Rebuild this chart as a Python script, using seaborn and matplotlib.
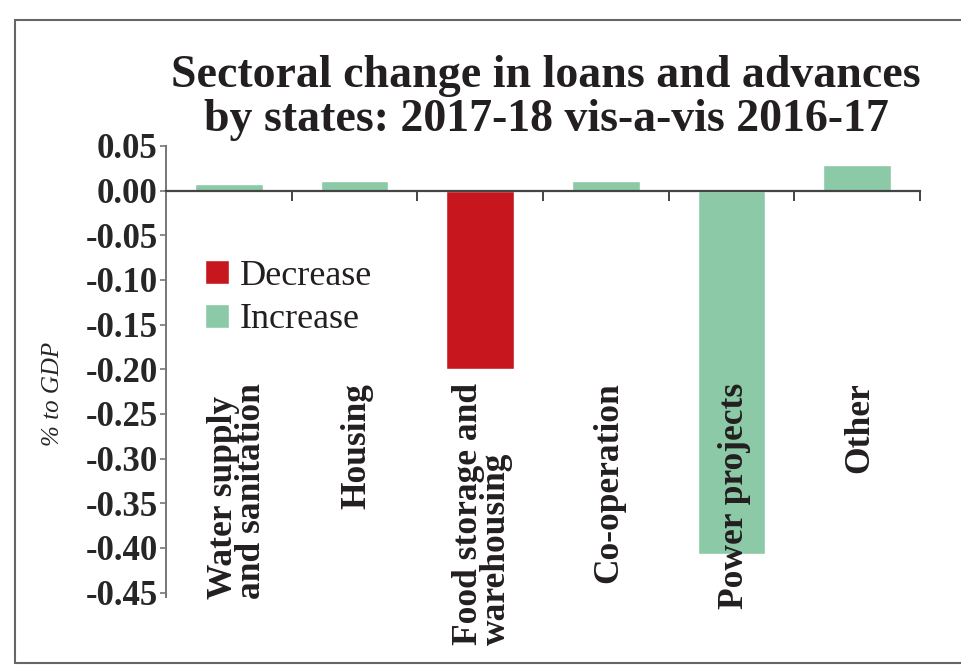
import numpy as np
import pandas as pd
import seaborn as sns
import matplotlib.pyplot as plt
from matplotlib.lines import Line2D

# chart data
sectors = ['Water supply\nand sanitation', 'Housing', 'Food storage and\nwarehousing',
           'Co-operation', 'Power projects', 'Other']
change = [0.007, 0.011, -0.200, 0.011, -0.407, 0.029]
direction = ['Increase', 'Increase', 'Decrease', 'Increase', 'Increase', 'Increase']
y_ticks = [0.05, 0.00, -0.05, -0.10, -0.15, -0.20, -0.25, -0.30, -0.35, -0.40, -0.45]

COLORS = {'Decrease': '#c8161e', 'Increase': '#8cc9a6'}
SERIF = ['Liberation Serif', 'DejaVu Serif']

sns.set_style('white')
plt.rcParams['font.family'] = SERIF
plt.rcParams['text.color'] = '#231f20'

df = pd.DataFrame({'sector': sectors, 'change': change, 'direction': direction})

fig = plt.figure(figsize=(9.61, 6.70), dpi=100)
ax = fig.add_axes([166 / 961, 1 - 597 / 670, (920 - 166) / 961, (597 - 146) / 670])

sns.barplot(ax=ax, data=df, x='sector', y='change', hue='direction',
            hue_order=['Decrease', 'Increase'], palette=COLORS, dodge=False,
            width=0.54, saturation=1, legend=True)

ax.set_xlim(-0.5, 5.5)
ax.set_ylim(-0.455, 0.05)

# spines: left one plus a baseline at zero
for s in ['top', 'right']:
    ax.spines[s].set_visible(False)
ax.spines['bottom'].set_position(('data', 0))
ax.spines['bottom'].set_color('#444444')
ax.spines['bottom'].set_linewidth(1.6)
ax.spines['left'].set_color('#777777')
ax.spines['left'].set_linewidth(1.4)

ax.set_xticks(np.arange(0.5, 6, 1))
ax.set_xticklabels([])
ax.tick_params(axis='x', direction='out', length=7, width=1.4, color='#444444', bottom=True)

ax.set_yticks(y_ticks)
ax.set_yticklabels([f'{v:.2f}' if v >= 0 else f'-{abs(v):.2f}' for v in y_ticks],
                   fontsize=25, fontweight='bold')
ax.tick_params(axis='y', direction='out', length=4, width=1.2, color='#777777', left=True, pad=2)
ax.set_xlabel('')
ax.set_ylabel('% to GDP', fontsize=18, fontstyle='italic')
ax.yaxis.set_label_coords(-0.135, 0.45)

# rotated category names under the baseline
offsets = [0.07, 0.02, 0.02, 0.02, 0.02, 0.02]
for i, name in enumerate(sectors):
    ax.text(i + offsets[i], -0.215, name, rotation=90, ha='center', va='top',
            multialignment='left', fontsize=25.5, fontweight='bold', linespacing=0.8)

# legend
handles, labels = ax.get_legend_handles_labels()
ax.legend(handles, labels, loc='upper left', bbox_to_anchor=(0.033, 0.78),
          frameon=False, fontsize=26, handlelength=0.65, handleheight=0.65,
          handletextpad=0.3, labelspacing=0.3, borderaxespad=0)

fig.text(546 / 961, 1 - 98 / 670, 'Sectoral change in loans and advances\nby states: 2017-18 vis-a-vis 2016-17',
         ha='center', va='center', fontsize=33, fontweight='bold', linespacing=1.08)

# outer frame
fc = '#666666'
fig.add_artist(Line2D([15 / 961, 1.0], [1 - 20 / 670, 1 - 20 / 670], color=fc, lw=1.5))
fig.add_artist(Line2D([15 / 961, 15 / 961], [1 - 20 / 670, 1 - 663 / 670], color=fc, lw=1.5))
fig.add_artist(Line2D([15 / 961, 1.0], [1 - 663 / 670, 1 - 663 / 670], color=fc, lw=1.5))

fig.savefig('out.png', dpi=100)
